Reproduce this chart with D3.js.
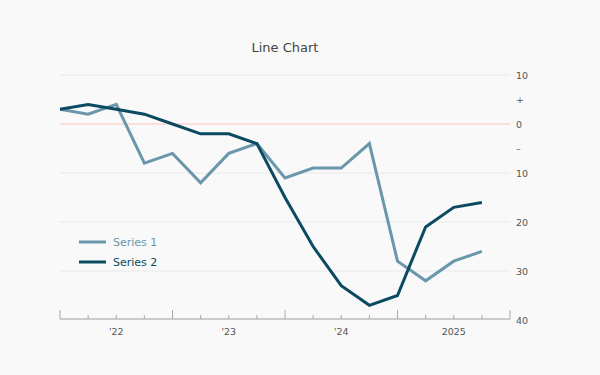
<!DOCTYPE html>
<html>
<head>
<meta charset="utf-8">
<script src="https://cdn.jsdelivr.net/npm/d3@7"></script>
<style>
  body { margin: 0; background: #f9f9f9; }
  svg { font-family: "DejaVu Sans", Verdana, sans-serif; }
</style>
</head>
<body>
<svg width="600" height="375"></svg>
<script>
// quarterly values, Q1 2022 .. Q4 2025
var series1 = [3, 2, 4, -8, -6, -12, -6, -4, -11, -9, -9, -4, -28, -32, -28, -26];
var series2 = [3, 4, 3, 2, 0, -2, -2, -4, -15, -25, -33, -37, -35, -21, -17, -16];
var seriesNames = ["Series 1", "Series 2"];
var seriesColors = ["#6a97ab", "#0b4a61"];
var yearLabels = ["'22", "'23", "'24", "2025"];
var yTicks = [10, 5, 0, -5, -10, -20, -30, -40];
var yTickLabels = ["10", "+", "0", "\u2013", "10", "20", "30", "40"];
var gridValues = [10, -10, -20, -30];

var svg = d3.select("svg");

var x = d3.scaleLinear().domain([0, 16]).range([60, 510]),
    y = d3.scaleLinear().domain([10, -40]).range([75, 320]);

svg.append("rect").attr("width", 600).attr("height", 375).attr("fill", "#f9f9f9");

svg.append("text")
    .attr("x", 285).attr("y", 52)
    .attr("text-anchor", "middle")
    .style("font-size", "13px")
    .style("fill", "#444")
    .text("Line Chart");

// gridlines
svg.selectAll(".grid")
  .data(gridValues)
  .enter().append("line")
    .attr("x1", x(0)).attr("x2", x(16))
    .attr("y1", function(d) { return y(d); })
    .attr("y2", function(d) { return y(d); })
    .attr("stroke", "#eeeeee")
    .attr("stroke-width", 1.5);

svg.append("line")
    .attr("x1", x(0)).attr("x2", x(16))
    .attr("y1", y(0)).attr("y2", y(0))
    .attr("stroke", "#f8d9cf")
    .attr("stroke-width", 1.5);

// right axis labels
var yAxis = svg.append("g")
    .attr("transform", "translate(510,0)")
    .call(d3.axisRight(y).tickValues(yTicks).tickSize(0).tickPadding(6)
      .tickFormat(function(d, i) { return yTickLabels[i]; }));
yAxis.select(".domain").remove();
yAxis.selectAll("text")
    .style("font-family", "DejaVu Sans, Verdana, sans-serif")
    .style("font-size", "9.5px")
    .style("fill", "#555");

// bottom axis: quarter ticks, taller at year boundaries
var xAxis = svg.append("g").attr("transform", "translate(0,319)");
xAxis.append("line")
    .attr("x1", x(0)).attr("x2", x(16))
    .attr("stroke", "#bbb").attr("stroke-width", 1.5);
xAxis.selectAll(".tick")
  .data(d3.range(0, 17))
  .enter().append("line")
    .attr("x1", function(d) { return x(d); })
    .attr("x2", function(d) { return x(d); })
    .attr("y1", 0)
    .attr("y2", function(d) { return d % 4 == 0 ? -9 : -4; })
    .attr("stroke", "#aaa");
xAxis.selectAll(".yearlabel")
  .data(yearLabels)
  .enter().append("text")
    .attr("x", function(d, i) { return x(i * 4 + 2); })
    .attr("y", 16)
    .attr("text-anchor", "middle")
    .style("font-size", "9.5px")
    .style("fill", "#555")
    .text(function(d) { return d; });

var line = d3.line()
    .x(function(d, i) { return x(i); })
    .y(function(d) { return y(d); });

[series1, series2].forEach(function(s, k) {
  svg.append("path")
      .datum(s)
      .attr("fill", "none")
      .attr("stroke", seriesColors[k])
      .attr("stroke-width", 3)
      .attr("stroke-linejoin", "miter")
      .attr("d", line);
});

// legend
var legend = svg.selectAll(".legend")
  .data(seriesNames)
  .enter().append("g")
    .attr("transform", function(d, i) { return "translate(79," + (242 + i * 20) + ")"; });
legend.append("line")
    .attr("x1", 0).attr("x2", 27)
    .attr("stroke", function(d, i) { return seriesColors[i]; })
    .attr("stroke-width", 3);
legend.append("text")
    .attr("x", 34).attr("y", 4)
    .style("font-size", "11px")
    .style("fill", function(d, i) { return seriesColors[i]; })
    .text(function(d) { return d; });
</script>
</body>
</html>
